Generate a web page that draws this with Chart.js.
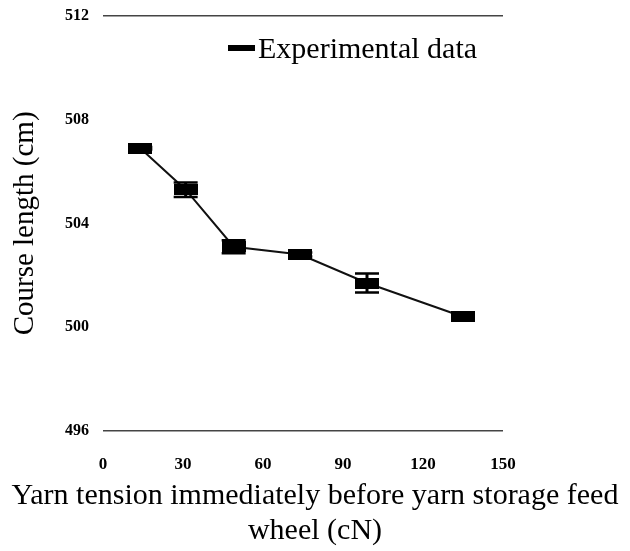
<!DOCTYPE html>
<html>
<head>
<meta charset="utf-8">
<script src="https://cdn.jsdelivr.net/npm/chart.js@4.4.1/dist/chart.umd.min.js"></script>
<style>
html,body{margin:0;padding:0;background:#fff;}
#wrap{width:630px;height:551px;}
</style>
</head>
<body>
<div id="wrap"><canvas id="courseChart"></canvas></div>
<script>
// yarn tension (cN) vs course length (cm)
const tension = [14, 31, 49, 74, 99, 135];
const courseLength = [506.9, 505.3, 503.1, 502.8, 501.7, 500.4];
const errors = [0.05, 0.28, 0.25, 0.08, 0.37, 0.05];
const xTicks = [0, 30, 60, 90, 120, 150];
const yTicks = [496, 500, 504, 508, 512];

const serif = "'Liberation Serif', 'Times New Roman', serif";
Chart.defaults.font.family = serif;
Chart.defaults.color = '#000';

// black rectangle marker
const mark = document.createElement('canvas');
mark.width = 24;
mark.height = 11;
const mctx = mark.getContext('2d');
mctx.fillStyle = '#000';
mctx.fillRect(0, 0, 24, 11);

const errorBars = {
  id: 'errorBars',
  afterDatasetsDraw(chart) {
    const ctx = chart.ctx;
    const yScale = chart.scales.y;
    const meta = chart.getDatasetMeta(0);
    ctx.save();
    ctx.strokeStyle = '#000';
    meta.data.forEach((pt, i) => {
      const top = yScale.getPixelForValue(courseLength[i] + errors[i]);
      const bot = yScale.getPixelForValue(courseLength[i] - errors[i]);
      ctx.lineWidth = 3;
      ctx.beginPath();
      ctx.moveTo(pt.x, top);
      ctx.lineTo(pt.x, bot);
      ctx.stroke();
      ctx.lineWidth = 2.5;
      ctx.beginPath();
      ctx.moveTo(pt.x - 12, top);
      ctx.lineTo(pt.x + 12, top);
      ctx.moveTo(pt.x - 12, bot);
      ctx.lineTo(pt.x + 12, bot);
      ctx.stroke();
    });
    ctx.restore();
  }
};

// legend sits inside the plot, under the top line
const innerLegend = {
  id: 'innerLegend',
  afterDraw(chart) {
    const ctx = chart.ctx;
    const label = chart.data.datasets[0].label;
    ctx.save();
    ctx.fillStyle = '#000';
    ctx.fillRect(228, 45, 27, 6);
    ctx.font = '30px ' + serif;
    ctx.textBaseline = 'alphabetic';
    ctx.fillText(label, 258, 58);
    ctx.restore();
  }
};

const ctx = document.getElementById('courseChart');

new Chart(ctx, {
  type: 'line',
  data: {
    datasets: [{
      label: 'Experimental data',
      data: tension.map((t, i) => ({x: t, y: courseLength[i]})),
      borderColor: '#111',
      borderWidth: 2,
      pointStyle: mark,
      pointRadius: 12,
      tension: 0,
      fill: false
    }]
  },
  options: {
    responsive: true,
    maintainAspectRatio: false,
    animation: false,
    layout: {
      padding: {top: 16, right: 0, bottom: 0, left: 0}
    },
    scales: {
      x: {
        type: 'linear',
        min: 0,
        max: 150,
        afterBuildTicks: s => { s.ticks = xTicks.map(v => ({value: v})); },
        afterFit: s => { s.height = 48; },
        grid: {display: false},
        border: {display: false},
        ticks: {
          padding: 16,
          font: {size: 17, weight: 'bold'}
        }
      },
      y: {
        min: 496,
        max: 512,
        afterBuildTicks: s => { s.ticks = yTicks.map(v => ({value: v})); },
        afterFit: s => { s.width = 103; s.paddingTop = 0; s.paddingBottom = 0; },
        border: {display: false},
        grid: {
          drawTicks: false,
          lineWidth: 1.5,
          color: c => (c.tick.value === 496 || c.tick.value === 512) ? '#444' : 'rgba(0,0,0,0)'
        },
        ticks: {
          padding: 14,
          font: {size: 16, weight: 'bold'}
        },
        title: {
          display: true,
          text: 'Course length (cm)',
          font: {size: 29},
          padding: {top: 8, bottom: 0}
        }
      },
      // empty right-hand space so the bottom title centres on the page
      spacer: {
        type: 'linear',
        position: 'right',
        afterFit: s => { s.width = 127; s.paddingTop = 0; s.paddingBottom = 0; },
        grid: {display: false},
        border: {display: false},
        ticks: {display: false}
      }
    },
    plugins: {
      legend: {display: false},
      tooltip: {enabled: false},
      title: {
        display: true,
        position: 'bottom',
        text: ['Yarn tension immediately before yarn storage feed', 'wheel (cN)'],
        font: {size: 30, weight: 'normal', lineHeight: 1.17},
        color: '#000',
        padding: {top: 0, bottom: 2}
      }
    }
  },
  plugins: [errorBars, innerLegend]
});
</script>
</body>
</html>
